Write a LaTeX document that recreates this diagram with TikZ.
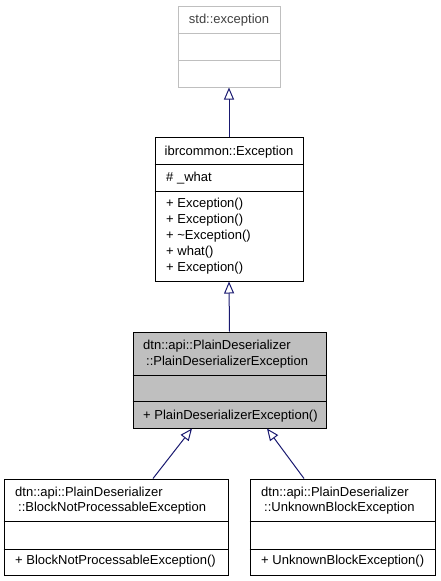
\documentclass[tikz,border=0pt]{standalone}
\usepackage{fontspec}
\setmainfont{Liberation Sans}
\usetikzlibrary{arrows.meta}
\definecolor{navy}{RGB}{25,25,112}
\definecolor{lgray}{RGB}{191,191,191}
\begin{document}
\begin{tikzpicture}[x=1pt,y=-1pt]
	\tikzstyle{every node} = [inner sep=0pt, font=\fontsize{13}{16}\selectfont]
	\tikzset{
		box/.style = {draw, line width=1pt},
		txt/.style = {anchor=base west},
		ctxt/.style = {anchor=base},
		inherit/.style = {draw=navy, line width=1pt, -{Triangle[open, length=12pt, width=10pt]}}
	}
	\useasboundingbox (0,0) rectangle (440,581);
	% std::exception
	\node[box, draw=lgray, minimum width=102pt, minimum height=81pt] (std) at (229,46.5) {};
	\draw[lgray, line width=1pt] (std.west |- 0,33) -- (std.east |- 0,33);
	\draw[lgray, line width=1pt] (std.west |- 0,60) -- (std.east |- 0,60);
	\node[ctxt, text=black!75] (stdname) at (229,23.5) {std::exception};
	% ibrcommon::Exception
	\node[box, minimum width=148pt, minimum height=144pt] (ibr) at (229,209) {};
	\draw[line width=1pt] (ibr.west |- 0,164) -- (ibr.east |- 0,164);
	\draw[line width=1pt] (ibr.west |- 0,191) -- (ibr.east |- 0,191);
	\node[ctxt] (ibrname) at (229,155.5) {ibrcommon::Exception};
	\node[txt] (ibrattr) at (166,181.5) {\# \_what};
	\node[txt] (ibrm1) at (166,207.5) {+ Exception()};
	\node[txt] (ibrm2) at (166,223.5) {+ Exception()};
	\node[txt] (ibrm3) at (166,239.5) {+ \textasciitilde Exception()};
	\node[txt] (ibrm4) at (166,255.5) {+ what()};
	\node[txt] (ibrm5) at (166,271.5) {+ Exception()};
	% dtn::api::PlainDeserializer::PlainDeserializerException
	\node[box, fill=lgray, minimum width=193pt, minimum height=96pt] (pde) at (229.5,380) {};
	\draw[line width=1pt] (pde.west |- 0,375) -- (pde.east |- 0,375);
	\draw[line width=1pt] (pde.west |- 0,401) -- (pde.east |- 0,401);
	\node[txt] (pdename1) at (143,349.5) {dtn::api::PlainDeserializer};
	\node[txt] (pdename2) at (146,365.5) {::PlainDeserializerException};
	\node[txt] (pdem1) at (143,419.5) {+ PlainDeserializerException()};
	% dtn::api::PlainDeserializer::BlockNotProcessableException
	\node[box, minimum width=224pt, minimum height=96pt] (bnp) at (116,527) {};
	\draw[line width=1pt] (bnp.west |- 0,521) -- (bnp.east |- 0,521);
	\draw[line width=1pt] (bnp.west |- 0,549) -- (bnp.east |- 0,549);
	\node[txt] (bnpname1) at (15,496.5) {dtn::api::PlainDeserializer};
	\node[txt] (bnpname2) at (18,511.5) {::BlockNotProcessableException};
	\node[txt] (bnpm1) at (15,564.5) {+ BlockNotProcessableException()};
	% dtn::api::PlainDeserializer::UnknownBlockException
	\node[box, minimum width=185pt, minimum height=96pt] (ube) at (342.5,527) {};
	\draw[line width=1pt] (ube.west |- 0,521) -- (ube.east |- 0,521);
	\draw[line width=1pt] (ube.west |- 0,549) -- (ube.east |- 0,549);
	\node[txt] (ubename1) at (261,496.5) {dtn::api::PlainDeserializer};
	\node[txt] (ubename2) at (264,511.5) {::UnknownBlockException};
	\node[txt] (ubem1) at (261,564.5) {+ UnknownBlockException()};
	% inheritance
	\draw[inherit] (ibr.north) -- (std.south);
	\draw[inherit] (pde.north) -- (ibr.south);
	\draw[inherit] ([xshift=37pt]bnp.north) -- ([xshift=-37.5pt]pde.south);
	\draw[inherit] ([xshift=-38.5pt]ube.north) -- ([xshift=37.5pt]pde.south);
\end{tikzpicture}
\end{document}
